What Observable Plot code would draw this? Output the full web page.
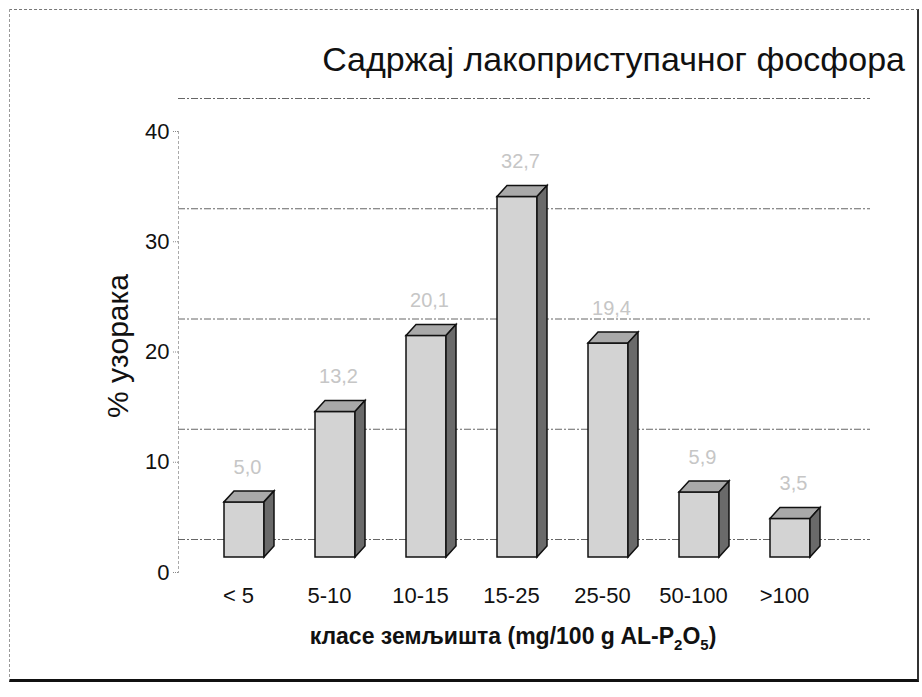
<!DOCTYPE html>
<html>
<head>
<meta charset="utf-8">
<script src="https://cdn.jsdelivr.net/npm/d3@7"></script>
<script src="https://cdn.jsdelivr.net/npm/@observablehq/plot@0.6"></script>
<style>
  html, body { margin: 0; padding: 0; background: #fff; }
  #wrap { position: relative; width: 922px; height: 697px; overflow: hidden; font-family: "Liberation Sans", Arial, sans-serif; }
  #border { position: absolute; left: 9px; top: 9px; width: 907px; height: 669px;
    border-left: 1px dashed #999; border-top: 1px dashed #777; border-right: 2px solid #333; border-bottom: 3px solid #111; }
  #title { position: absolute; right: 17px; top: 40px; font-size: 34px; color: #111; white-space: nowrap; }
  #xlabel { position: absolute; left: 0; width: 1026px; top: 623px; text-align: center; font-size: 23px; font-weight: bold; color: #111; white-space: nowrap; }
  #xlabel sub { font-size: 15px; }
  svg { position: absolute; left: 0; top: 0; }
</style>
</head>
<body>
<div id="wrap">
  <div id="border"></div>
  <div id="title">Садржај лакоприступачног фосфора</div>
  <div id="xlabel">класе земљишта (mg/100 g AL-P<sub>2</sub>O<sub>5</sub>)</div>
</div>
<script>
const categories = ["< 5", "5-10", "10-15", "15-25", "25-50", "50-100", ">100"];
const values = [5.0, 13.2, 20.1, 32.7, 19.4, 5.9, 3.5];
const yTicks = [0, 10, 20, 30, 40];
const yLabel = "% узорака";

const data = categories.map((c, i) => ({cat: c, value: values[i]}));
const fmt = v => v.toFixed(1).replace(".", ",");

const DX = 10, DY = 11;
function prism(index, scales, vals, dims, ctx, next) {
  const g = next(index, scales, vals, dims, ctx);
  const ns = "http://www.w3.org/2000/svg";
  Array.from(g.querySelectorAll("rect")).forEach(r => {
    const x = +r.getAttribute("x"), y = +r.getAttribute("y");
    const w = +r.getAttribute("width"), h = +r.getAttribute("height");
    const top = document.createElementNS(ns, "polygon");
    top.setAttribute("points", `${x},${y} ${x + DX},${y - DY} ${x + w + DX},${y - DY} ${x + w},${y}`);
    top.setAttribute("fill", "#a9a9a9");
    const side = document.createElementNS(ns, "polygon");
    side.setAttribute("points", `${x + w},${y} ${x + w + DX},${y - DY} ${x + w + DX},${y + h - DY} ${x + w},${y + h}`);
    side.setAttribute("fill", "#6a6a6a");
    g.appendChild(top);
    g.appendChild(side);
  });
  return g;
}

const chart = Plot.plot({
  width: 922,
  height: 697,
  marginTop: 131,
  marginBottom: 125,
  marginLeft: 178,
  marginRight: 52,
  style: {fontFamily: "'Liberation Sans', Arial, sans-serif", background: "transparent", color: "#111"},
  x: {domain: categories, range: [196, 838], paddingInner: 0.56, paddingOuter: 0.28},
  y: {domain: [0, 40], range: [572, 131]},
  marks: [
    Plot.ruleY(yTicks, {dy: -33, stroke: "#666", strokeWidth: 1, strokeDasharray: "7,2,2,2"}),
    Plot.frame({anchor: "left", stroke: "#aaa", strokeDasharray: "2,3"}),
    Plot.axisY({ticks: yTicks, tickSize: 6, tickPadding: 3, fontSize: 22, label: null, stroke: "#888", strokeDasharray: "1,1"}),
    Plot.barY(data, {x: "cat", y: "value", dy: -15, fill: "#d3d3d3", stroke: "#111", strokeWidth: 1.5, render: prism}),
    Plot.text(data, {x: "cat", y: "value", text: d => fmt(d.value), dy: -50, dx: 3, fill: "#c6c6c6", fontSize: 20}),
    Plot.axisX({tickSize: 0, tickPadding: 15, fontSize: 22, dx: -6, label: null}),
    Plot.text([yLabel], {frameAnchor: "left", textAnchor: "middle", dx: -60, dy: -6, rotate: -90, fontSize: 30, fill: "#111"})
  ]
});
document.getElementById("wrap").insertBefore(chart, document.getElementById("title"));
</script>
</body>
</html>
